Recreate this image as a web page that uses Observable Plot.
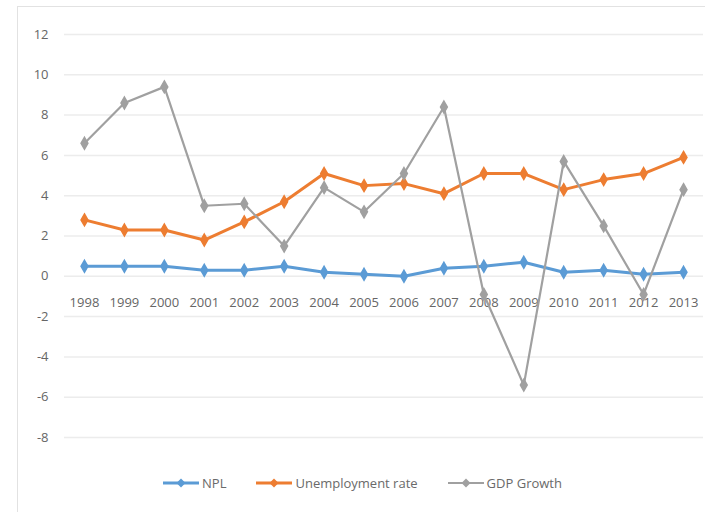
<!DOCTYPE html>
<html>
<head>
<meta charset="utf-8">
<script src="https://cdn.jsdelivr.net/npm/d3@7"></script>
<script src="https://cdn.jsdelivr.net/npm/@observablehq/plot@0.6"></script>
<style>
  html, body { margin: 0; padding: 0; background: #fff; }
  #wrap { position: relative; width: 705px; height: 512px; overflow: hidden; font-family: "Open Sans", sans-serif; }
  #frame { position: absolute; left: 17px; top: 6px; width: 700px; height: 520px; border: 1px solid #e2e2e2; box-sizing: border-box; pointer-events: none; }
  #legend { position: absolute; left: 0; top: 470px; width: 705px; height: 26px; display: flex; justify-content: center; align-items: center; gap: 30px; font-size: 13px; color: #6a6a6a; padding-left: 20px; box-sizing: border-box; }
  .item { display: flex; align-items: center; gap: 3px; }
</style>
</head>
<body>
<div id="wrap">
  <div id="chart"></div>
  <div id="legend"></div>
  <div id="frame"></div>
</div>
<script>
const years = [1998, 1999, 2000, 2001, 2002, 2003, 2004, 2005, 2006, 2007, 2008, 2009, 2010, 2011, 2012, 2013];
const npl = [0.5, 0.5, 0.5, 0.3, 0.3, 0.5, 0.2, 0.1, 0.0, 0.4, 0.5, 0.7, 0.2, 0.3, 0.1, 0.2];
const unemployment = [2.8, 2.3, 2.3, 1.8, 2.7, 3.7, 5.1, 4.5, 4.6, 4.1, 5.1, 5.1, 4.3, 4.8, 5.1, 5.9];
const gdp = [6.6, 8.6, 9.4, 3.5, 3.6, 1.5, 4.4, 3.2, 5.1, 8.4, -0.9, -5.4, 5.7, 2.5, -0.9, 4.3];
const seriesNames = ["NPL", "Unemployment rate", "GDP Growth"];
const seriesColors = ["#5b9bd5", "#ed7d31", "#a0a0a0"];
const yTicks = [-8, -6, -4, -2, 0, 2, 4, 6, 8, 10, 12];

const seriesValues = [npl, unemployment, gdp];
const rows = seriesNames.flatMap((name, i) =>
  years.map((year, j) => ({series: name, year, value: seriesValues[i][j]})));
const colorOf = Object.fromEntries(seriesNames.map((n, i) => [n, seriesColors[i]]));
const widthOf = {"NPL": 3, "Unemployment rate": 3, "GDP Growth": 2.2};

const marks = [
  Plot.ruleY(yTicks, {stroke: "#ececec", strokeWidth: 1.5}),
  Plot.axisY({ticks: yTicks, tickSize: 0, tickPadding: 16, label: null, tickFormat: d => String(d), fontSize: 13, fill: "#666"}),
  Plot.text(years, {x: d => d, y: () => 0, dy: 27, text: d => String(d), fontSize: 13, fill: "#666"})
];
for (const name of seriesNames) {
  const data = rows.filter(r => r.series === name);
  marks.push(Plot.line(data, {x: "year", y: "value", stroke: colorOf[name], strokeWidth: widthOf[name]}));
  marks.push(Plot.dot(data, {x: "year", y: "value", symbol: "diamond", r: 3.6, fill: colorOf[name], stroke: colorOf[name]}));
}

const chart = Plot.plot({
  width: 705,
  height: 460,
  marginLeft: 64,
  marginRight: 2,
  marginTop: 34,
  marginBottom: 23,
  style: {fontFamily: "Open Sans, sans-serif", background: "transparent"},
  x: {domain: [1997.5, 2013.5], axis: null},
  y: {domain: [-8, 12], axis: null},
  marks
});
document.getElementById("chart").appendChild(chart);

const legend = document.getElementById("legend");
seriesNames.forEach((name, i) => {
  const item = document.createElement("div");
  item.className = "item";
  const c = seriesColors[i];
  item.innerHTML = `<svg width="36" height="12"><line x1="0" y1="6" x2="36" y2="6" stroke="${c}" stroke-width="${i === 2 ? 2.2 : 3}"/><path d="M18,1.5 L22.5,6 L18,10.5 L13.5,6 Z" fill="${c}"/></svg><span>${name}</span>`;
  legend.appendChild(item);
});
</script>
</body>
</html>
